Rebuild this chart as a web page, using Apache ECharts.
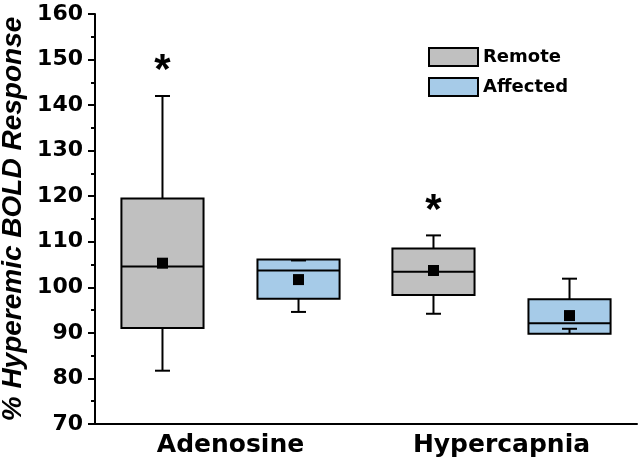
<!DOCTYPE html>
<html><head><meta charset="utf-8">
<script src="https://cdn.jsdelivr.net/npm/echarts@6/dist/echarts.min.js"></script>
<style>html,body{margin:0;padding:0;background:#fff}#c{width:640px;height:461px}</style>
</head><body><div id="c"></div>
<script>
const categories = ['Adenosine', 'Hypercapnia'];
const seriesNames = ['Remote', 'Affected'];
// [min whisker, Q1, median, Q3, max whisker]
const remoteBox = [[81.7, 91.1, 104.6, 119.5, 142.0], [94.2, 98.3, 103.4, 108.5, 111.4]];
const remoteMean = [105.3, 103.7];
const affectedBox = [[94.6, 97.5, 103.7, 106.1, 105.9], [90.9, 89.8, 92.1, 97.4, 101.9]];
const affectedMean = [101.7, 93.8];
// significance asterisks (over Remote boxes)
const sigMarks = [149.2, 118.6];
const yMin = 70, yMax = 160, yStep = 10;

const colors = ['#c0c0c0', '#a6cbe8'];
const offsets = [-0.251, 0.251];

function buildData(box, mean) {
  return categories.map((c, i) => [i].concat(box[i], [mean[i]]));
}

function boxRender(offsetFrac, color) {
  return function (params, api) {
    const ci = api.value(0);
    const band = api.size([1, 0])[0];
    const cx = api.coord([ci, yMin])[0] + offsetFrac * band;
    const w = band * 0.303, capW = 15, ms = 11;
    const y = v => api.coord([ci, v])[1];
    const yLo = y(api.value(1)), yQ1 = y(api.value(2)), yMed = y(api.value(3)),
          yQ3 = y(api.value(4)), yHi = y(api.value(5)), yMean = y(api.value(6));
    const ls = { stroke: '#000', lineWidth: 2 };
    return {
      type: 'group',
      children: [
        { type: 'rect', shape: { x: cx - w / 2, y: yQ3, width: w, height: yQ1 - yQ3 }, style: { fill: color, stroke: '#000', lineWidth: 2 } },
        { type: 'line', shape: { x1: cx, y1: yQ3, x2: cx, y2: yHi }, style: ls },
        { type: 'line', shape: { x1: cx - capW / 2, y1: yHi, x2: cx + capW / 2, y2: yHi }, style: ls },
        { type: 'line', shape: { x1: cx, y1: yQ1, x2: cx, y2: yLo }, style: ls },
        { type: 'line', shape: { x1: cx - capW / 2, y1: yLo, x2: cx + capW / 2, y2: yLo }, style: ls },
        { type: 'line', shape: { x1: cx - w / 2, y1: yMed, x2: cx + w / 2, y2: yMed }, style: ls },
        { type: 'rect', shape: { x: cx - ms / 2, y: yMean - ms / 2, width: ms, height: ms }, style: { fill: '#000' } }
      ]
    };
  };
}

function sigRender(params, api) {
  const ci = api.value(0);
  const band = api.size([1, 0])[0];
  const p = api.coord([ci, api.value(1)]);
  const fs = 42;
  return {
    type: 'text', x: p[0] + offsets[0] * band, y: p[1] + fs * 0.2,
    style: { text: '*', font: 'bold ' + fs + 'px "Liberation Sans"', fill: '#000', align: 'center', verticalAlign: 'middle' }
  };
}

const chart = echarts.init(document.getElementById('c'), null, { renderer: 'canvas' });
chart.setOption({
  animation: false,
  backgroundColor: '#fff',
  grid: { left: 95, right: 3, top: 14, bottom: 37, containLabel: false, outerBoundsMode: 'none' },
  legend: {
    orient: 'vertical', left: 423, top: 42, itemWidth: 49, itemHeight: 18, itemGap: 10,
    icon: 'rect',
    textStyle: { fontFamily: 'DejaVu Sans', fontWeight: 'bold', fontSize: 18, color: '#000' },
    data: seriesNames.map((n, i) => ({ name: n, icon: 'rect', itemStyle: { color: colors[i], borderColor: '#000', borderWidth: 2 } }))
  },
  xAxis: {
    type: 'category', data: categories, boundaryGap: true,
    axisLine: { lineStyle: { color: '#000', width: 2 } },
    axisTick: { alignWithLabel: true, length: 6, lineStyle: { color: '#000', width: 2 } },
    axisLabel: { fontFamily: 'DejaVu Sans', fontWeight: 'bold', fontSize: 25, color: '#000', margin: 9 },
    splitLine: { show: false }
  },
  yAxis: {
    type: 'value', min: yMin, max: yMax, interval: yStep,
    name: '% Hyperemic BOLD Response', nameLocation: 'middle', nameGap: 68, nameMoveOverlap: false,
    nameTextStyle: { fontFamily: 'Liberation Sans', fontStyle: 'italic', fontWeight: 'bold', fontSize: 28, color: '#000' },
    axisLine: { show: true, lineStyle: { color: '#000', width: 2 } },
    axisTick: { show: true, length: 7, lineStyle: { color: '#000', width: 2 } },
    minorTick: { show: true, splitNumber: 2, length: 4, lineStyle: { color: '#000', width: 2 } },
    axisLabel: { fontFamily: 'DejaVu Sans', fontWeight: 'bold', fontSize: 22, color: '#000', margin: 12 },
    splitLine: { show: false }, minorSplitLine: { show: false }
  },
  series: [
    { name: seriesNames[0], type: 'custom', renderItem: boxRender(offsets[0], colors[0]),
      itemStyle: { color: colors[0], borderColor: '#000', borderWidth: 2 },
      encode: { x: 0, y: [1, 2, 3, 4, 5, 6] }, data: buildData(remoteBox, remoteMean) },
    { name: seriesNames[1], type: 'custom', renderItem: boxRender(offsets[1], colors[1]),
      itemStyle: { color: colors[1], borderColor: '#000', borderWidth: 2 },
      encode: { x: 0, y: [1, 2, 3, 4, 5, 6] }, data: buildData(affectedBox, affectedMean) },
    { name: 'sig', type: 'custom', renderItem: sigRender, silent: true,
      encode: { x: 0, y: 1 }, data: categories.map((c, i) => [i, sigMarks[i]]) }
  ]
});
</script></body></html>
